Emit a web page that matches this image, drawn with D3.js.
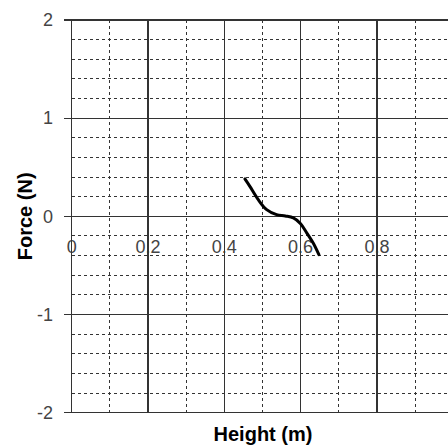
<!DOCTYPE html>
<meta charset="utf-8">
<style>
body { margin: 0; background: #fff; }
svg { font-family: "Liberation Sans", Arial, sans-serif; }
.grid-major { stroke: #333; stroke-width: 1.2; shape-rendering: crispEdges; }
.grid-minor { stroke: #333; stroke-width: 1; stroke-dasharray: 3,3; shape-rendering: crispEdges; }
.tick-label { font-size: 18px; fill: #444; }
.axis-title { font-size: 20px; font-weight: bold; fill: #000; }
.curve { fill: none; stroke: #000; stroke-width: 3; stroke-linecap: round; }
</style>
<body>
<div id="chart"></div>
<script src="https://cdnjs.cloudflare.com/ajax/libs/d3/7.8.5/d3.min.js"></script>
<script>
// values
var curveX = [0.454, 0.467, 0.489, 0.511, 0.537, 0.560, 0.581, 0.600, 0.616, 0.633, 0.648];
var curveY = [0.381, 0.305, 0.170, 0.068, 0.017, 0.004, -0.016, -0.075, -0.169, -0.271, -0.39];
var xTicks = [0, 0.2, 0.4, 0.6, 0.8];
var yTicks = [-2, -1, 0, 1, 2];
var xMinor = [0.1, 0.3, 0.5, 0.7, 0.9];
var yMinor = [-1.8, -1.6, -1.4, -1.2, -0.8, -0.6, -0.4, -0.2, 0.2, 0.4, 0.6, 0.8, 1.2, 1.4, 1.6, 1.8];

var width = 448, height = 447;
var x = d3.scaleLinear().domain([0, 1]).range([71.7, 453.2]);
var y = d3.scaleLinear().domain([-2, 2]).range([412.7, 20]);

var svg = d3.select("#chart").append("svg")
  .attr("width", width)
  .attr("height", height);

// x tick labels sit just under the zero line, inside the plot
svg.selectAll(".xlab").data(xTicks).enter().append("text")
  .attr("class", "tick-label")
  .attr("x", function(d) { return x(d); })
  .attr("y", y(0) + 37)
  .attr("text-anchor", "middle")
  .text(function(d) { return d === 0 ? "0" : d3.format(".1f")(d); });

// minor dashed grid
svg.selectAll(".hminor").data(yMinor).enter().append("line")
  .attr("class", "grid-minor")
  .attr("x1", x(0)).attr("x2", x(1))
  .attr("y1", function(d) { return y(d); })
  .attr("y2", function(d) { return y(d); });

svg.selectAll(".vminor").data(xMinor).enter().append("line")
  .attr("class", "grid-minor")
  .attr("y1", y(2)).attr("y2", y(-2))
  .attr("x1", function(d) { return x(d); })
  .attr("x2", function(d) { return x(d); });

// major solid grid + frame
svg.selectAll(".hmajor").data(yTicks).enter().append("line")
  .attr("class", "grid-major")
  .attr("x1", x(0) - 8).attr("x2", x(1))
  .attr("y1", function(d) { return y(d); })
  .attr("y2", function(d) { return y(d); });

svg.selectAll(".vmajor").data(xTicks.concat([1])).enter().append("line")
  .attr("class", "grid-major")
  .attr("y1", y(2)).attr("y2", y(-2))
  .attr("x1", function(d) { return x(d); })
  .attr("x2", function(d) { return x(d); });

// y tick labels
svg.selectAll(".ylab").data(yTicks).enter().append("text")
  .attr("class", "tick-label")
  .attr("x", 53)
  .attr("y", function(d) { return y(d); })
  .attr("dy", "0.35em")
  .attr("text-anchor", "end")
  .text(function(d) { return d; });

// curve
var line = d3.line()
  .x(function(d, i) { return x(curveX[i]); })
  .y(function(d) { return y(d); })
  .curve(d3.curveCatmullRom);

svg.append("path")
  .attr("class", "curve")
  .attr("d", line(curveY));

// axis titles
svg.append("text")
  .attr("class", "axis-title")
  .attr("text-anchor", "middle")
  .attr("transform", "translate(32," + y(0) + ") rotate(-90)")
  .text("Force (N)");

svg.append("text")
  .attr("class", "axis-title")
  .attr("text-anchor", "middle")
  .attr("x", 263)
  .attr("y", 441)
  .text("Height (m)");
</script>
</body>
